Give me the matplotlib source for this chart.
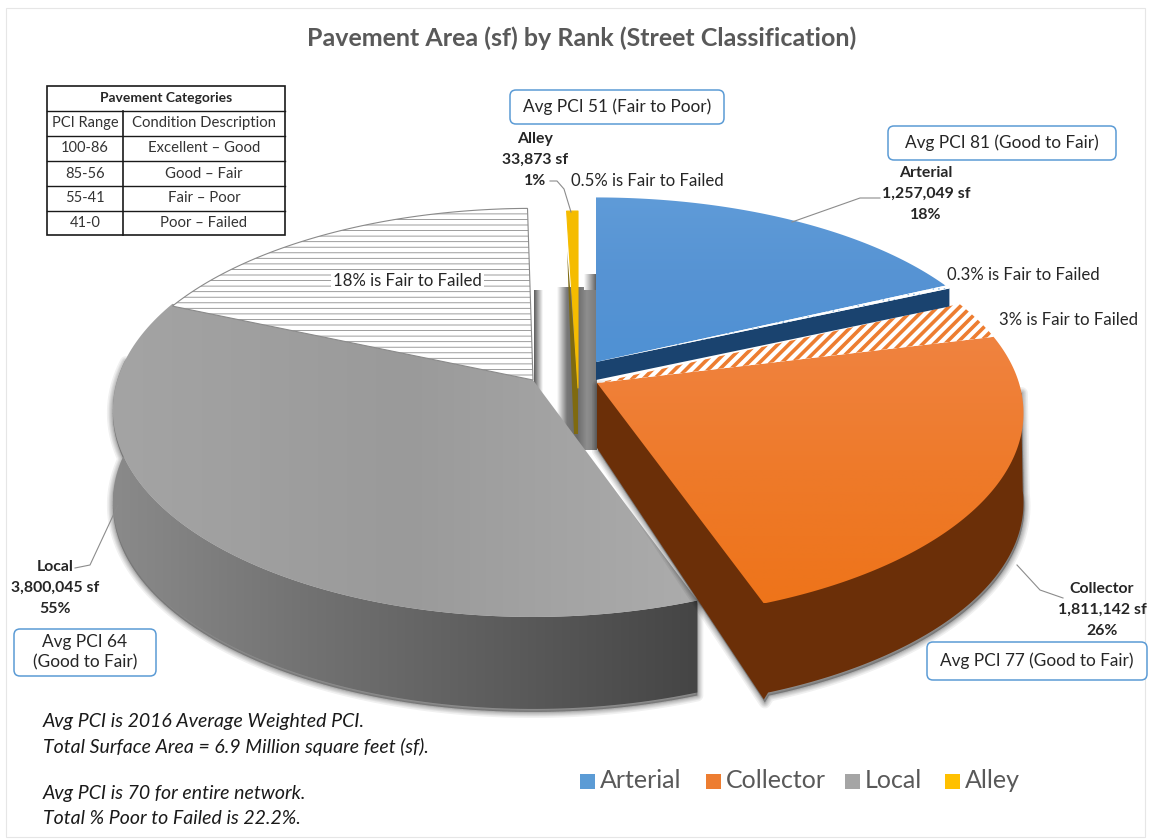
import numpy as np
import matplotlib
matplotlib.use('Agg')
import matplotlib.pyplot as plt
from matplotlib.patches import Polygon, FancyBboxPatch, Rectangle
from matplotlib.colors import LinearSegmentedColormap

categories = ['Arterial', 'Collector', 'Local', 'Alley']
area_sf = [1257049, 1811142, 3800045, 33873]
share_labels = ['18%', '26%', '55%', '1%']
fair_failed_pct = [0.3, 3, 18, 0.5]
avg_pci = ['Avg PCI 81 (Good to Fair)', 'Avg PCI 77 (Good to Fair)',
           'Avg PCI 64\n(Good to Fair)', 'Avg PCI 51 (Fair to Poor)']
table_head = ['PCI Range', 'Condition Description']
table_range = ['100-86', '85-56', '55-41', '41-0']
table_desc = ['Excellent \u2013 Good', 'Good \u2013 Fair', 'Fair \u2013 Poor', 'Poor \u2013 Failed']
legend_colors = ['#5b9bd5', '#ed7d31', '#a5a5a5', '#ffc000']

plt.rcParams['font.family'] = ['Lato', 'DejaVu Sans']

RX, RY, K = 422, 202.6, 0.145
fig = plt.figure(figsize=(11.5, 8.4), dpi=100)
ax = fig.add_axes([0, 0, 1, 1])


def rim(apex, deg, sx=1.0, sy=1.0):
    # circle seen in perspective, angle clockwise from top
    t = np.radians(deg)
    den = 1 + K * np.cos(t)
    return np.column_stack([apex[0] + sx * RX * np.sin(t) / den,
                            apex[1] - sy * RY * np.cos(t) / den])


def arc(apex, a, b, sx=1.0, sy=1.0):
    return rim(apex, np.linspace(a, b, 120), sx, sy)


def grad(pts, stops, vertical=False, z=3):
    # gradient fill clipped to a polygon
    cmap = LinearSegmentedColormap.from_list('g', stops)
    ramp = np.linspace(0, 1, 256).reshape(-1, 1) if vertical else np.linspace(0, 1, 256).reshape(1, -1)
    x0, x1, y0, y1 = pts[:, 0].min(), pts[:, 0].max(), pts[:, 1].min(), pts[:, 1].max()
    im = ax.imshow(ramp, cmap=cmap, extent=(x0, x1, y1, y0), aspect='auto', zorder=z, interpolation='bilinear')
    poly = Polygon(pts, closed=True, fc='none', ec='none', zorder=z, transform=ax.transData)
    ax.add_patch(poly)
    im.set_clip_path(poly)


def shadow(pts, dx=2, dy=3, z=2):
    for w in [12, 9, 7, 5, 3, 2]:
        ax.add_patch(Polygon(pts + [dx, dy], closed=True, fc='#000000', ec='#000000', lw=w * 0.72,
                             alpha=0.06, joinstyle='round', zorder=z))


def hatched(pts, color, hatch, lw, z=4):
    plt.rcParams['hatch.linewidth'] = lw
    ax.add_patch(Polygon(pts, closed=True, fc='white', ec=color, lw=0, hatch=hatch, zorder=z))


def wall(apex, a, b, depth, sx=1.0):
    top = arc(apex, a, b, sx)
    return np.vstack([top, top[::-1] + [0, depth]])


total = sum(area_sf)
sweep = [v / total * 360 for v in area_sf]
ends = np.cumsum(sweep)
starts = ends - sweep
ff_deg = [p * 3.6 for p in fair_failed_pct]

apex_art = np.array([596.0, 362.0])
apex_col = np.array([597.0, 383.0])
apex_loc = np.array([533.0, 380.0])
apex_aly = np.array([578.0, 388.0])

# frame
ax.add_patch(Rectangle((6, 8), 1139, 829, fc='white', ec='#e6e6e6', lw=0.8, zorder=0))

# shadows in the gaps between the slices
grad(np.array([[534, 290], [543, 290], [543, 400], [534, 400]], float), ['#5a5a5a', '#ffffff'], z=1)
grad(np.array([[557, 287], [597, 287], [597, 450], [557, 450]], float),
     ['#ffffff', '#777777', '#6a6a6a', '#8e8e8e', '#7a7a7a'], z=1)
grad(np.array([[584, 274], [597, 274], [597, 290], [584, 290]], float), ['#ffffff', '#555555'], z=1)

# Local
LOC_SX = 0.985
s, e = starts[2], ends[2]
split = e - ff_deg[2]
loc_top = np.vstack([apex_loc, arc(apex_loc, s, split, LOC_SX)])
loc_wall = wall(apex_loc, s, 276, 92, LOC_SX)
shadow(loc_wall, 0, 3)
grad(loc_wall, ['#8a8a8a', '#727272', '#5c5c5c', '#454545'], z=3)
grad(loc_top, ['#a4a4a4', '#9a9a9a', '#acacac'], z=4)
# hatched part runs close up to the alley slice
loc_ff = np.vstack([apex_loc, arc(apex_loc, split, e + 0.9, LOC_SX, 0.97)])
hatched(loc_ff, '#8c8c8c', '---', 0.6)
ax.add_patch(Polygon(loc_ff, closed=True, fc='none', ec='#8a8a8a', lw=0.8, zorder=5))

# Collector
s, e = starts[1], ends[1]
split = s + ff_deg[1]
col_side = np.vstack([apex_col + [0, 65], rim(apex_col, e) + [0, 96],
                      arc(apex_col, e, 95)[1:] + [0, 90], rim(apex_col, 92), apex_col])
shadow(col_side, 1, 3, z=5)
ax.add_patch(Polygon(col_side, closed=True, fc='#6b2f08', ec='none', zorder=6))
col_top = np.vstack([apex_col, arc(apex_col, split, e)])
grad(col_top, ['#f08340', '#ee7a2a', '#ee741a'], vertical=True, z=7)
hatched(np.vstack([apex_col, arc(apex_col, s, split)]), '#ed7d31', '///', 2.6, z=7)

# Arterial
s, e = starts[0], ends[0]
split = e - ff_deg[0]
art_sx, art_sy = 0.975, 0.93
art_end = rim(apex_art, e, art_sx, art_sy)[0]
face = np.array([apex_art, art_end, art_end + [0, 18], apex_art + [0, 18]])
ax.add_patch(Polygon(face, closed=True, fc='#1a436f', ec='none', zorder=8))
art_top = np.vstack([apex_art, arc(apex_art, s, split, art_sx, art_sy)])
grad(art_top, ['#5f9bd8', '#5693d3', '#4f91d4'], vertical=True, z=8)
art_ff = np.vstack([apex_art, arc(apex_art, split, e, art_sx, art_sy)])
hatched(art_ff, '#8db8e0', '...', 0.4, z=8)

# Alley
s, e = starts[3], ends[3]
aly_top = np.vstack([apex_aly, arc(apex_aly, s, e)])
aly_l = aly_top[1]
aly_wall = np.array([aly_l + [0.5, 40], apex_aly + [-6, 0], apex_aly + [-4, 46], apex_aly + [0, 46], apex_aly])
ax.add_patch(Polygon(aly_wall, closed=True, fc='#7f6a10', ec='none', zorder=9))
ax.add_patch(Polygon(aly_top, closed=True, fc='#f5bc00', ec='#f5bc00', lw=0.8, joinstyle='round', zorder=9))

# leader lines
leaders = [([550, 557, 564, 571], [181, 181, 189, 212]),
           ([880, 860, 792], [198, 198, 222]),
           ([1063, 1040, 1017], [598, 590, 565]),
           ([75, 90, 118], [568, 565, 505])]
for lx, ly in leaders:
    ax.plot(lx, ly, color='#8c8c8c', lw=0.8, zorder=10)

# title
ax.text(582, 38, 'Pavement Area (sf) by Rank (Street Classification)', ha='center', va='center',
        fontsize=18, fontweight='bold', color='#595959', zorder=12)

# bold data labels
label_pos = [(926, 173), (1102, 589), (55, 567), (535, 139)]
for name, val, pct, (lx, ly) in zip(categories, area_sf, share_labels, label_pos):
    for i, t in enumerate([name, f'{val:,} sf', pct]):
        ax.text(lx, ly + i * 21, t, ha='center', va='center', fontsize=11.4, fontweight='bold',
                color='#262626', zorder=12)

# fair to failed labels
ff_pos = [(947, 275), (999, 320), (333, 281), (571, 181)]
for p, (lx, ly) in zip(fair_failed_pct, ff_pos):
    bg = dict(fc='white', ec='none', pad=1.5) if p == 18 else None
    ax.text(lx, ly, f'{p}% is Fair to Failed', ha='left', va='center', fontsize=12.1, color='#262626',
            bbox=bg, zorder=12)

# callouts
box_pos = [(888, 126, 228, 34), (927, 642, 220, 38), (14, 629, 142, 47), (510, 90, 214, 34)]
for txt, (bx, by, bw, bh) in zip(avg_pci, box_pos):
    ax.add_patch(FancyBboxPatch((bx + 4, by + 4), bw - 8, bh - 8, boxstyle='round,pad=4,rounding_size=6',
                                fc='white', ec='#5b9bd5', lw=1.1, zorder=11))
    ax.text(bx + bw / 2, by + bh / 2, txt, ha='center', va='center', fontsize=12.4, color='#262626',
            linespacing=1.3, zorder=12)

# categories table
tx = [47, 123, 285]
ty = [86, 111, 136, 161, 186, 211, 235]
ax.add_patch(Rectangle((tx[0], ty[0]), tx[2] - tx[0], ty[-1] - ty[0], fc='white', ec='#1a1a1a', lw=1.2, zorder=11))
for yy in ty[1:-1]:
    ax.plot([tx[0], tx[2]], [yy, yy], color='#1a1a1a', lw=1.0, zorder=12)
ax.plot([tx[1], tx[1]], [ty[1], ty[-1]], color='#1a1a1a', lw=1.2, zorder=12)
ax.text((tx[0] + tx[2]) / 2, (ty[0] + ty[1]) / 2, 'Pavement Categories', ha='center', va='center',
        fontsize=10, fontweight='bold', color='#262626', zorder=12)
rows = [table_head] + [[a, b] for a, b in zip(table_range, table_desc)]
for i, (a, b) in enumerate(rows):
    ym = (ty[i + 1] + ty[i + 2]) / 2
    ax.text((tx[0] + tx[1]) / 2, ym, a, ha='center', va='center', fontsize=10.5, color='#333333', zorder=12)
    ax.text((tx[1] + tx[2]) / 2, ym, b, ha='center', va='center', fontsize=10.7, color='#333333', zorder=12)

# notes
notes = ['Avg PCI is 2016 Average Weighted PCI.', 'Total Surface Area = 6.9 Million square feet (sf).',
         'Avg PCI is 70 for entire network.', 'Total % Poor to Failed is 22.2%.']
note_y = [722, 747, 793, 818]
for t, yy in zip(notes, note_y):
    ax.text(43, yy, t, ha='left', va='center', fontsize=14, fontstyle='italic', color='#1a1a1a', zorder=12)

# legend
leg_x = [580, 706, 845, 945]
for name, col, lx in zip(categories, legend_colors, leg_x):
    ax.add_patch(Rectangle((lx, 774), 15, 15, fc=col, ec='none', zorder=12))
    ax.text(lx + 20, 781, name, ha='left', va='center', fontsize=18, color='#595959', zorder=12)

ax.set_xlim(0, 1150)
ax.set_ylim(840, 0)
ax.axis('off')
fig.savefig('out.png', dpi=100)
